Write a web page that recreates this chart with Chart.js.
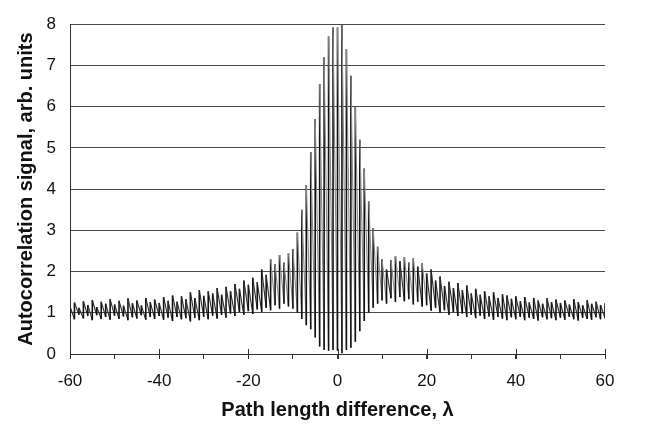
<!DOCTYPE html>
<html>
<head>
<meta charset="utf-8">
<title>Autocorrelation trace</title>
<script src="https://cdn.jsdelivr.net/npm/chart.js@4/dist/chart.umd.min.js"></script>
<style>
    html, body { margin: 0; padding: 0; background: #fff; }
    #wrap { width: 655px; height: 431px; position: relative; }
</style>
</head>
<body>
<div id="wrap"><canvas id="acf"></canvas></div>
<script>
// Interferometric autocorrelation: one fringe per wavelength of delay.
// For every fringe we keep its maximum and minimum level.

const fringeX = [
    -60, -59, -58, -57, -56, -55, -54, -53, -52, -51,
    -50, -49, -48, -47, -46, -45, -44, -43, -42, -41,
    -40, -39, -38, -37, -36, -35, -34, -33, -32, -31,
    -30, -29, -28, -27, -26, -25, -24, -23, -22, -21,
    -20, -19, -18, -17, -16, -15, -14, -13, -12, -11,
    -10, -9, -8, -7, -6, -5, -4, -3, -2, -1,
    0, 1, 2, 3, 4, 5, 6, 7, 8, 9,
    10, 11, 12, 13, 14, 15, 16, 17, 18, 19,
    20, 21, 22, 23, 24, 25, 26, 27, 28, 29,
    30, 31, 32, 33, 34, 35, 36, 37, 38, 39,
    40, 41, 42, 43, 44, 45, 46, 47, 48, 49,
    50, 51, 52, 53, 54, 55, 56, 57, 58, 59, 60
];

const fringeHigh = [
    1.16, 1.25, 1.12, 1.28, 1.19, 1.31, 1.14, 1.27, 1.22, 1.33,
    1.20, 1.29, 1.17, 1.35, 1.23, 1.30, 1.18, 1.36, 1.26, 1.32,
    1.24, 1.38, 1.29, 1.42, 1.27, 1.40, 1.33, 1.50, 1.36, 1.55,
    1.41, 1.52, 1.47, 1.60, 1.44, 1.63, 1.52, 1.70, 1.58, 1.78,
    1.68, 1.85, 1.74, 2.05, 1.92, 2.30, 2.18, 2.40, 2.22, 2.45,
    2.55, 2.95, 3.50, 4.10, 4.90, 5.70, 6.55, 7.20, 7.70, 7.92,
    7.92, 7.98, 7.40, 6.75, 6.00, 5.20, 4.50, 3.70, 3.05, 2.60,
    2.30, 2.05, 2.28, 2.38, 2.25, 2.35, 2.22, 2.32, 2.12, 2.20,
    1.95, 2.05, 1.78, 1.88, 1.65, 1.75, 1.60, 1.72, 1.55, 1.66,
    1.47, 1.58, 1.44, 1.52, 1.40, 1.50, 1.36, 1.45, 1.42, 1.34,
    1.40, 1.28, 1.38, 1.25, 1.36, 1.30, 1.22, 1.35, 1.26, 1.32,
    1.24, 1.30, 1.20, 1.33, 1.26, 1.18, 1.31, 1.22, 1.27, 1.19, 1.23
];

const fringeLow = [
    0.90, 0.84, 0.95, 0.86, 0.92, 0.82, 0.94, 0.85, 0.90, 0.83,
    0.93, 0.85, 0.91, 0.82, 0.89, 0.86, 0.94, 0.83, 0.90, 0.85,
    0.92, 0.83, 0.88, 0.80, 0.90, 0.84, 0.87, 0.79, 0.88, 0.82,
    0.90, 0.84, 0.93, 0.86, 0.95, 0.88, 0.98, 0.92, 1.02, 0.95,
    1.04, 0.97, 1.08, 1.02, 1.12, 1.06, 1.18, 1.10, 1.22, 1.15,
    1.10, 1.00, 0.85, 0.70, 0.60, 0.40, 0.18, 0.10, 0.08, 0.10,
    0.08, 0.02, 0.10, 0.15, 0.30, 0.55, 0.80, 1.00, 1.12, 1.22,
    1.30, 1.22, 1.35, 1.26, 1.38, 1.28, 1.33, 1.20, 1.27, 1.15,
    1.18, 1.05, 1.12, 1.00, 1.06, 0.95, 1.02, 0.92, 0.98, 0.90,
    0.95, 0.87, 0.93, 0.85, 0.91, 0.83, 0.90, 0.86, 0.82, 0.89,
    0.84, 0.90, 0.82, 0.88, 0.85, 0.81, 0.89, 0.84, 0.87, 0.82,
    0.88, 0.83, 0.90, 0.84, 0.81, 0.88, 0.85, 0.83, 0.89, 0.84, 0.87
];

const xTickLabels = [-60, -40, -20, 0, 20, 40, 60];
const yTickLabels = [0, 1, 2, 3, 4, 5, 6, 7, 8];

const fontFamily = "'Liberation Sans', Arial, sans-serif";
const ink = '#111';

// trace goes up each fringe (low -> high), then falls to the next fringe's low
const trace = [];
fringeX.forEach((x, i) => {
    trace.push({ x: x, y: fringeLow[i] });
    trace.push({ x: x, y: fringeHigh[i] });
});

// slanted falls: dark where the fringes are shallow, grey across the tall ones
function fallColor(c) {
    if (c.p0DataIndex % 2 === 0) return ink;
    const drop = Math.abs(c.p0.parsed.y - c.p1.parsed.y);
    return drop < 1 ? '#2a2a2a' : '#8a8a8a';
}

// major x ticks cross the axis line, minor ones only hang below it
const majorTicks = {
    id: 'majorTicks',
    afterDraw(chart) {
        const { ctx, scales: { x }, chartArea } = chart;
        ctx.save();
        ctx.strokeStyle = '#333';
        ctx.lineWidth = 1;
        xTickLabels.forEach(v => {
            const px = Math.round(x.getPixelForValue(v)) + 0.5;
            ctx.beginPath();
            ctx.moveTo(px, chartArea.bottom - 5);
            ctx.lineTo(px, chartArea.bottom + 5);
            ctx.stroke();
        });
        ctx.restore();
    }
};

const ctx = document.getElementById('acf').getContext('2d');
new Chart(ctx, {
    type: 'scatter',
    data: {
        datasets: [{
            data: trace,
            showLine: true,
            borderColor: ink,
            borderWidth: 1.6,
            pointRadius: 0,
            tension: 0,
            segment: {
                borderColor: fallColor,
                borderWidth: c => c.p0DataIndex % 2 === 0 ? 1.6 : 1.1
            }
        }]
    },
    options: {
        responsive: true,
        maintainAspectRatio: false,
        animation: false,
        layout: { padding: { top: 16, right: 50, left: 0, bottom: 0 } },
        plugins: {
            legend: { display: false },
            tooltip: { enabled: false }
        },
        scales: {
            x: {
                type: 'linear',
                min: -60,
                max: 60,
                afterFit: s => { s.height = 77; },
                border: { display: true, color: '#333', width: 1 },
                grid: {
                    drawOnChartArea: false,
                    drawTicks: true,
                    tickLength: 5,
                    color: '#333'
                },
                ticks: {
                    stepSize: 10,
                    padding: 12,
                    color: ink,
                    font: { family: fontFamily, size: 17 },
                    callback: v => xTickLabels.includes(v) ? String(v) : ''
                },
                title: {
                    display: true,
                    text: 'Path length difference, λ',
                    color: ink,
                    font: { family: fontFamily, size: 20, weight: 'bold' },
                    padding: { top: 4, bottom: 9 }
                }
            },
            y: {
                min: 0,
                max: 8,
                afterFit: s => { s.width = 70; },
                border: { display: true, color: '#333', width: 1 },
                grid: {
                    drawTicks: false,
                    color: '#4a4a4a',
                    lineWidth: 1
                },
                ticks: {
                    stepSize: 1,
                    padding: 14,
                    color: ink,
                    font: { family: fontFamily, size: 17 },
                    callback: v => yTickLabels.includes(v) ? String(v) : ''
                },
                title: {
                    display: true,
                    text: 'Autocorrelation signal, arb. units',
                    color: ink,
                    font: { family: fontFamily, size: 20, weight: 'bold' },
                    padding: { top: 14, bottom: 4 }
                }
            }
        }
    },
    plugins: [majorTicks]
});
</script>
</body>
</html>
